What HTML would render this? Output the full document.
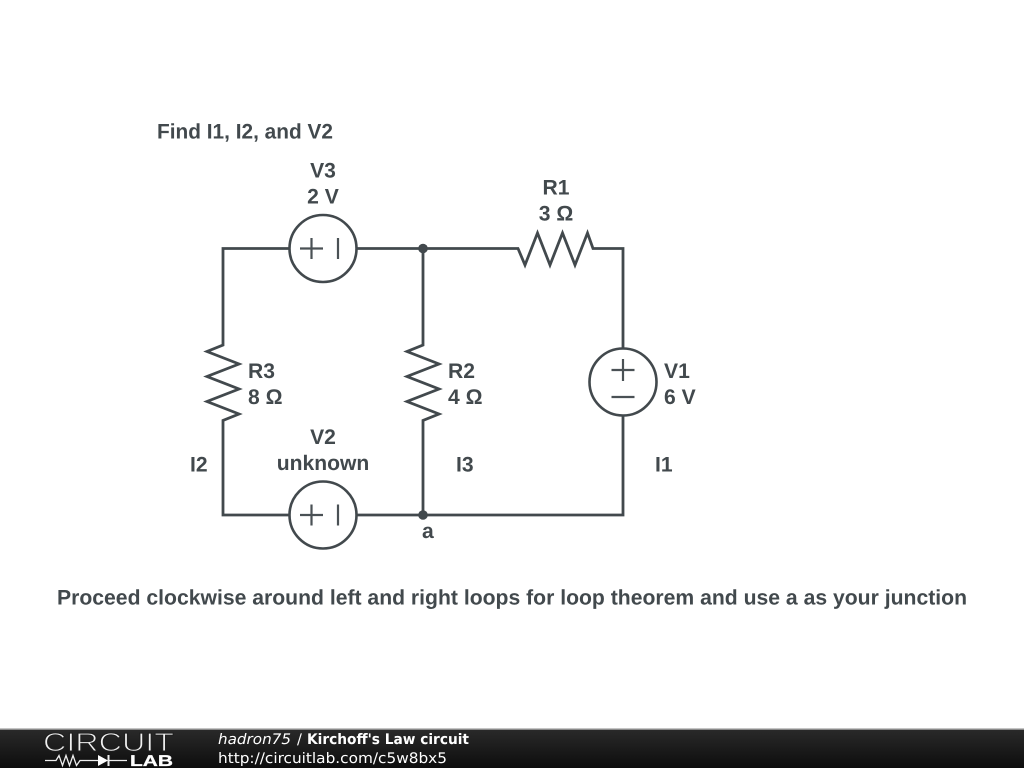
<!DOCTYPE html>
<html><head><meta charset="utf-8"><style>html,body{margin:0;padding:0;background:#fff;width:1024px;height:768px;overflow:hidden}svg{display:block}text{text-rendering:geometricPrecision}</style></head>
<body>
<svg width="1024" height="768" viewBox="0 0 1024 768" xmlns="http://www.w3.org/2000/svg">
<defs><linearGradient id="g" x1="0" y1="0" x2="0" y2="1"><stop offset="0" stop-color="#2a2a2a"/><stop offset="1" stop-color="#0d0d0d"/></linearGradient></defs>
<rect width="1024" height="768" fill="#fff"/>
<g fill="none" stroke="#42494d" stroke-width="2.8" stroke-linejoin="miter">
<path d="M290 248.500H223V345L207 351.500 239 364 207 376.500 239 389 207 401.500 239 414 223 420.500V515H290"/>
<path d="M356 248.500H518L525 265 537.500 233 550 265 562.500 233 575 265 587.500 233 593 248.500H623V349"/>
<path d="M356 515H623V415"/>
<path d="M423 248.500V345L407 351.500 439 364 407 376.500 439 389 407 401.500 439 414 423 420.500V515"/>
</g>
<g fill="none" stroke="#42494d" stroke-width="2.600">
<circle cx="323" cy="248.500" r="33.500"/>
<circle cx="323" cy="515" r="33.500"/>
<circle cx="623" cy="382" r="33.500"/>
</g>
<g fill="none" stroke="#4a5155" stroke-width="2.200">
<path d="M300 248.500H323M311.500 238V259M338 238V259"/>
<path d="M300 515H323M311.500 504.500V525.500M338 504.500V525.500"/>
<path d="M611.500 370H634.500M623 359V381M611.500 397H634.500"/>
</g>
<circle cx="423" cy="248.500" r="4.800" fill="#42494d"/>
<circle cx="423" cy="515" r="4.800" fill="#42494d"/>
<g font-family="'Liberation Sans',sans-serif" font-weight="700" font-size="21.100" fill="#42494d">
<text x="157" y="138.500" textLength="176" lengthAdjust="spacingAndGlyphs">Find I1, I2, and V2</text>
<text x="323" y="177.500" text-anchor="middle">V3</text>
<text x="323" y="203.500" text-anchor="middle">2 V</text>
<text x="556" y="194.300" text-anchor="middle">R1</text>
<text x="556" y="220.300" text-anchor="middle">3 Ω</text>
<text x="248" y="378">R3</text>
<text x="248" y="404">8 Ω</text>
<text x="448" y="378">R2</text>
<text x="448" y="404">4 Ω</text>
<text x="664" y="378">V1</text>
<text x="664" y="404">6 V</text>
<text x="323" y="444" text-anchor="middle">V2</text>
<text x="323" y="470" text-anchor="middle">unknown</text>
<text x="190" y="471.300">I2</text>
<text x="456" y="471.300">I3</text>
<text x="655" y="471.300">I1</text>
<text x="422" y="538">a</text>
<text x="57" y="604.500" textLength="910" lengthAdjust="spacingAndGlyphs">Proceed clockwise around left and right loops for loop theorem and use a as your junction</text>
</g>
<rect y="729" width="1024" height="39" fill="url(#g)"/>
<rect y="728.500" width="1024" height="1.500" fill="#8a8a8a"/>
<text x="43" y="751" font-family="'Liberation Sans',sans-serif" font-size="26" fill="#f0f0f0" stroke="#1f1f1f" stroke-width="1" textLength="131" lengthAdjust="spacingAndGlyphs">CIRCUIT</text>
<g fill="none" stroke="#eee" stroke-width="1.300">
<path d="M45 760.500H56L59 755.500 62.500 765.500 66 755.500 69.500 765.500 73 755.500 76.500 765.500 80 760.500H98M108 760.500H127"/>
<path d="M108.500 755V766" stroke-width="2"/>
</g>
<path d="M98 755L108 760.500 98 766Z" fill="#fff"/>
<text x="130" y="766" font-family="'Liberation Sans',sans-serif" font-weight="700" font-size="15.500" fill="#fff" stroke="#fff" stroke-width="0.300" textLength="43" lengthAdjust="spacingAndGlyphs">LAB</text>
<g font-family="'DejaVu Sans',sans-serif" font-size="14.500" fill="#fff">
<text x="218" y="744" font-style="italic" textLength="73" lengthAdjust="spacingAndGlyphs">hadron75</text>
<text x="297" y="744">/</text>
<text x="307" y="744" font-weight="700" font-size="14.500" textLength="162" lengthAdjust="spacingAndGlyphs">Kirchoff's Law circuit</text>
<text x="218" y="763" textLength="229" lengthAdjust="spacingAndGlyphs">http://circuitlab.com/c5w8bx5</text>
</g>
</svg>
</body></html>
